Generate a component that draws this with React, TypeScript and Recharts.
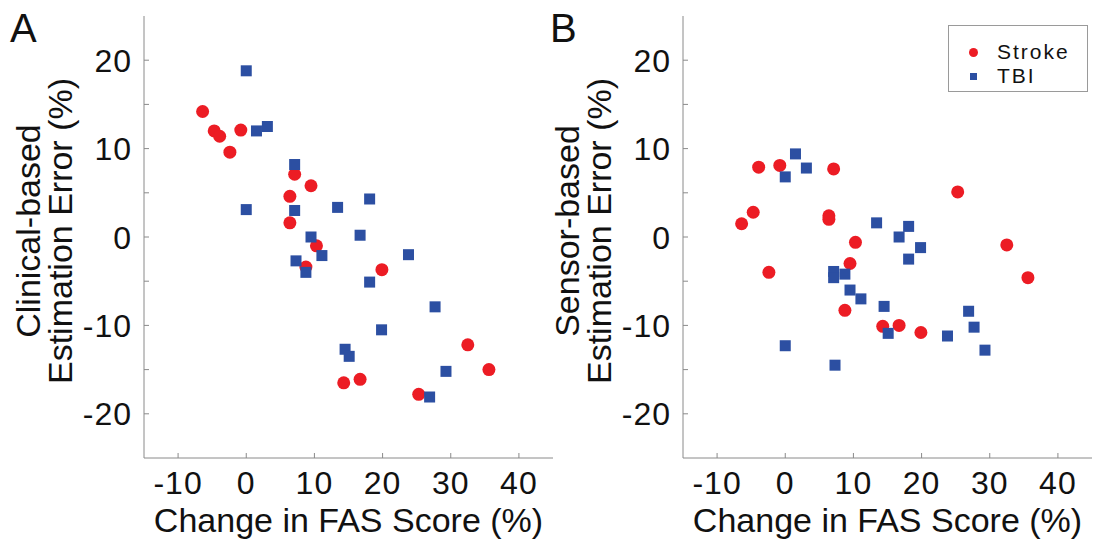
import React from 'react';
import { ScatterChart, Scatter, XAxis, YAxis } from 'recharts';

// change in FAS score (%) per patient, shared by both panels
const strokeChange = [-6.4, -4.7, -3.9, -0.8, -2.4, 7.1, 9.5, 6.4, 6.4, 10.3, 8.75, 19.9, 32.5, 35.6, 14.3, 16.7, 25.3];
const strokeClinicalErr = [14.2, 12.0, 11.4, 12.1, 9.6, 7.1, 5.8, 4.6, 1.6, -1.0, -3.4, -3.7, -12.2, -15.0, -16.5, -16.1, -17.8];
const strokeSensorErr = [1.5, 2.8, 7.9, 8.1, -4.0, 7.7, -3.0, 2.4, 2.0, -0.6, -8.3, -10.8, -0.9, -4.6, -10.1, -10.0, 5.1];

const tbiChange = [0.0, 1.5, 3.1, 7.1, 0.0, 7.1, 13.4, 18.1, 9.5, 16.7, 11.1, 23.8, 7.3, 8.75, 18.1, 27.7, 19.85, 14.5, 15.1, 29.3, 26.9];
const tbiClinicalErr = [18.8, 12.0, 12.5, 8.2, 3.1, 3.0, 3.35, 4.3, 0.0, 0.2, -2.1, -2.0, -2.7, -4.0, -5.1, -7.9, -10.5, -12.7, -13.5, -15.2, -18.1];
const tbiSensorErr = [6.8, 9.4, 7.8, -3.9, -12.3, -4.6, 1.6, 1.2, -6.0, 0.0, -7.0, -11.2, -14.5, -4.2, -2.5, -10.2, -1.2, -7.85, -10.9, -12.8, -8.4];

const xTicks = [-10, 0, 10, 20, 30, 40];
const yTicks = [-20, -15, -10, -5, 0, 5, 10, 15, 20];

const RED = '#ec1c24';
const BLUE = '#2c4fa2';
const AXIS = '#8a8a8a';
const INK = '#111';
const FONT = '"Liberation Sans", Arial, sans-serif';

const toPoints = (xs: number[], ys: number[]) => xs.map((x, i) => ({ x, y: ys[i] }));

const Dot = (p: any) => <circle cx={p.cx} cy={p.cy} r={6.5} fill={RED} />;
const Square = (p: any) => <rect x={p.cx - 5.5} y={p.cy - 5.5} width={11} height={11} fill={BLUE} />;

const XTick = ({ x, y, payload }: any) => (
  <text x={x} y={y} dy="0.71em" textAnchor="middle" fontSize={32} letterSpacing={1} fill={INK} fontFamily={FONT}>
    {payload.value}
  </text>
);

const YTick = ({ x, y, payload }: any) =>
  payload.value % 10 === 0 ? (
    <text x={x} y={y} dy="0.36em" textAnchor="end" fontSize={32} letterSpacing={1} fill={INK} fontFamily={FONT}>
      {payload.value}
    </text>
  ) : (
    <g />
  );

const yTitle = (first: string) => (props: any) => {
  const vb = props.viewBox;
  const cy = vb.y + vb.height / 2 - 6;
  const axisX = vb.x + vb.width;
  return (
    <g fontSize={34} fill={INK} fontFamily={FONT} textAnchor="middle">
      <text transform="rotate(-90)" x={-cy} y={axisX - 104}>{first}</text>
      <text transform="rotate(-90)" x={-cy} y={axisX - 72}>Estimation Error (%)</text>
    </g>
  );
};

const xTitle = (props: any) => {
  const vb = props.viewBox;
  return (
    <text x={vb.x + vb.width / 2} y={532} textAnchor="middle" fontSize={34} fill={INK} fontFamily={FONT}>
      Change in FAS Score (%)
    </text>
  );
};

const LegendBox = () => (
  <div
    style={{
      position: 'absolute',
      left: 948,
      top: 25,
      width: 140,
      height: 67,
      border: '1px solid #9a9a9a',
      background: '#fff',
      fontFamily: FONT,
      fontSize: 21,
      letterSpacing: 2,
      lineHeight: '24px',
      color: INK,
      boxSizing: 'border-box',
      paddingTop: 14,
    }}
  >
    <div style={{ display: 'flex', alignItems: 'center', height: 24 }}>
      <span style={{ width: 9, height: 9, borderRadius: 5, background: RED, marginLeft: 20, marginRight: 19 }} />
      <span>Stroke</span>
    </div>
    <div style={{ display: 'flex', alignItems: 'center', height: 24 }}>
      <span style={{ width: 7, height: 7, background: BLUE, marginLeft: 21, marginRight: 20 }} />
      <span>TBI</span>
    </div>
  </div>
);

const Panel = ({ letter, first, stroke, tbi }: any) => (
  <div style={{ position: 'relative', width: 556, height: 542 }}>
    <ScatterChart width={556} height={542} margin={{ top: 16, right: 3, bottom: 0, left: 0 }}>
      <XAxis
        type="number"
        dataKey="x"
        domain={[-15, 45]}
        ticks={xTicks}
        allowDataOverflow
        height={84}
        stroke={AXIS}
        tickSize={-5}
        tickMargin={18}
        tick={<XTick />}
        label={{ content: xTitle }}
      />
      <YAxis
        type="number"
        dataKey="y"
        domain={[-25, 25]}
        ticks={yTicks}
        allowDataOverflow
        width={144}
        stroke={AXIS}
        tickSize={-5}
        tickMargin={17}
        tick={<YTick />}
        label={{ content: yTitle(first) }}
      />
      <Scatter name="Stroke" data={stroke} shape={Dot} isAnimationActive={false} />
      <Scatter name="TBI" data={tbi} shape={Square} isAnimationActive={false} />
    </ScatterChart>
    <div
      style={{
        position: 'absolute',
        left: letter === 'A' ? 10 : 11,
        top: 6,
        fontFamily: FONT,
        fontSize: 40,
        color: INK,
        lineHeight: '44px',
      }}
    >
      {letter}
    </div>
  </div>
);

export default function App() {
  return (
    <div style={{ position: 'absolute', left: 0, top: 0, width: 1095, height: 542, background: '#fff' }}>
      <div style={{ position: 'absolute', left: 0, top: 0 }}>
        <Panel
          letter="A"
          first="Clinical-based"
          stroke={toPoints(strokeChange, strokeClinicalErr)}
          tbi={toPoints(tbiChange, tbiClinicalErr)}
        />
      </div>
      <div style={{ position: 'absolute', left: 539, top: 0 }}>
        <Panel
          letter="B"
          first="Sensor-based"
          stroke={toPoints(strokeChange, strokeSensorErr)}
          tbi={toPoints(tbiChange, tbiSensorErr)}
        />
      </div>
      <LegendBox />
    </div>
  );
}
